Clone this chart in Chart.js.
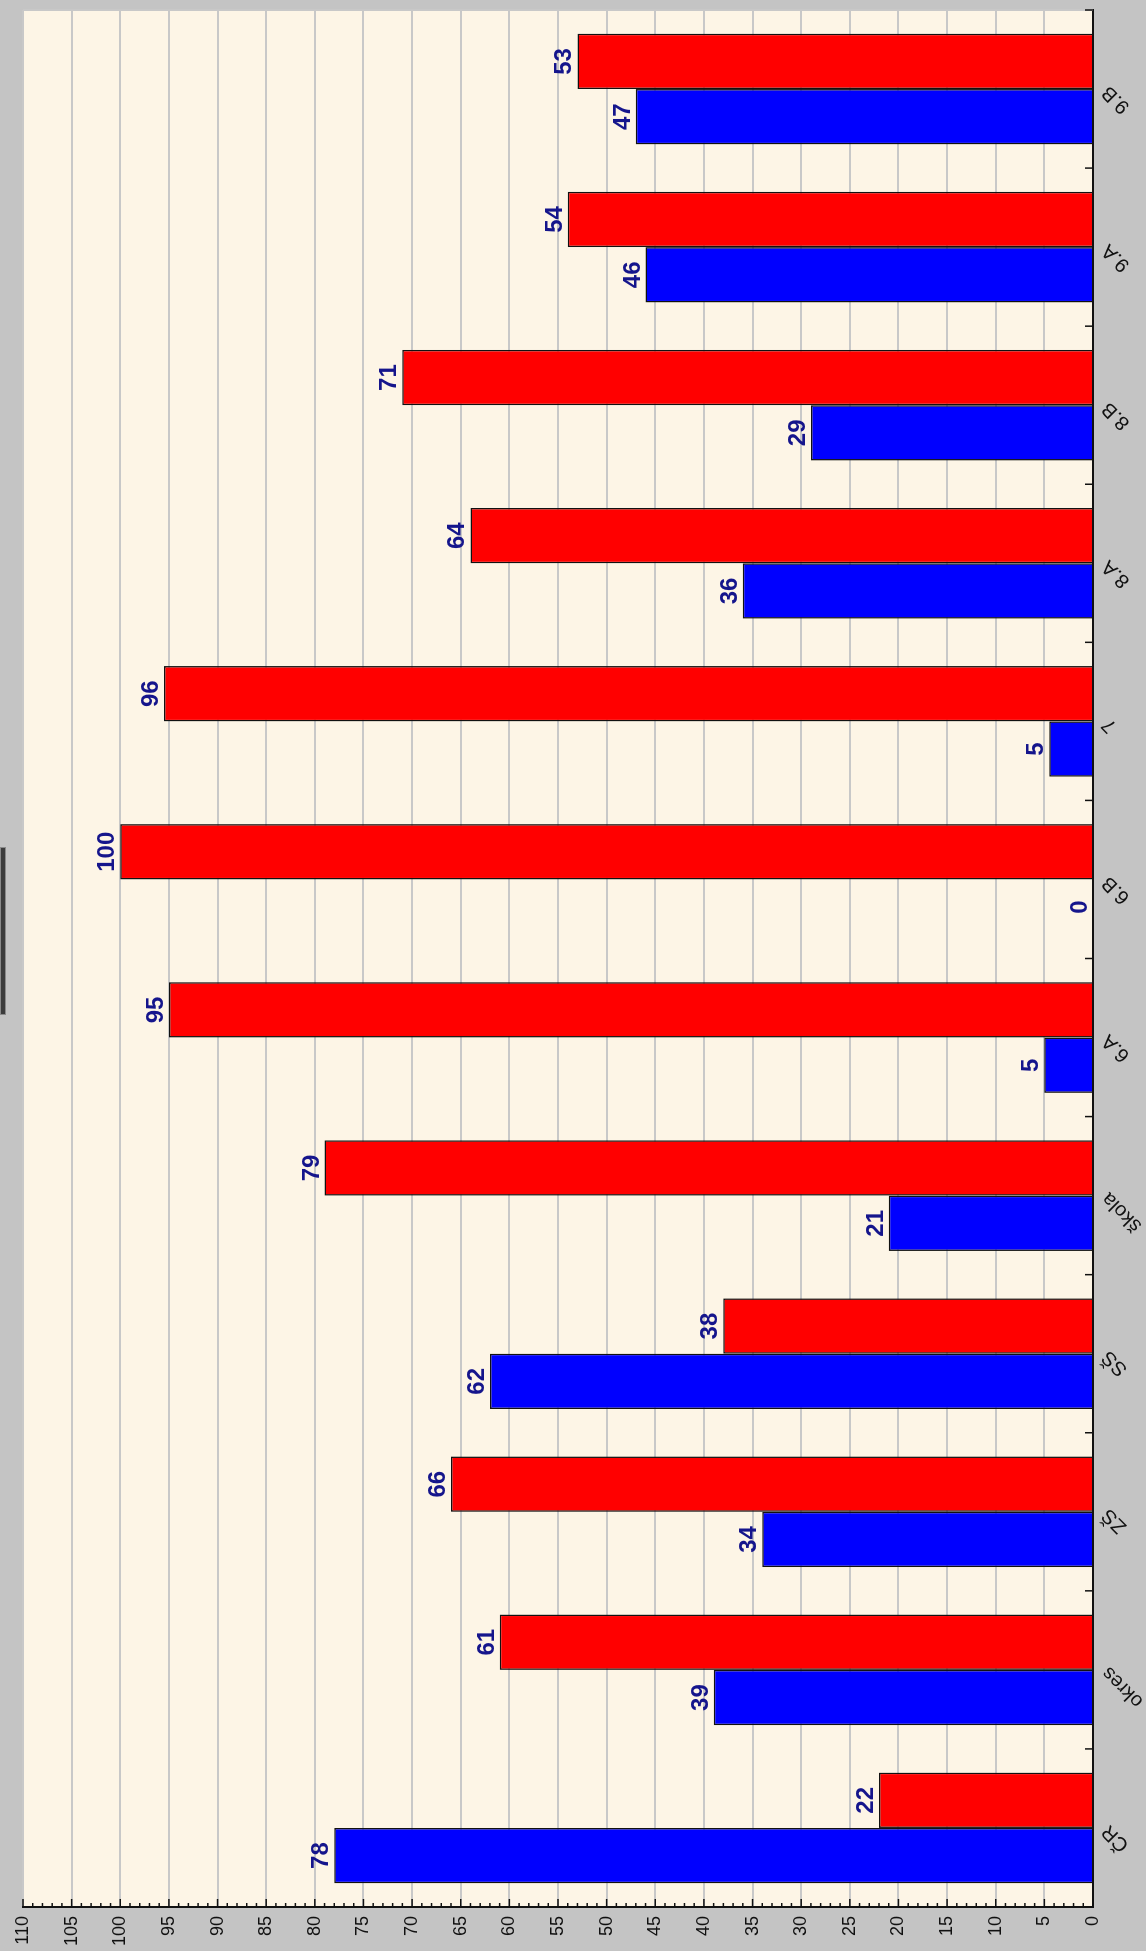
<!DOCTYPE html>
<html>
<head>
<meta charset="utf-8">
<script src="https://cdn.jsdelivr.net/npm/chart.js@4/dist/chart.umd.min.js"></script>
<style>
  html, body { margin: 0; padding: 0; background: #c4c4c4; overflow: hidden; }
  body { width: 1146px; height: 1951px; position: relative; }
  #rot { position: absolute; left: 0; top: 0; width: 1951px; height: 1146px;
         transform-origin: 0 0; transform: translate(0px, 1951px) rotate(-90deg); }
  #mark { position: absolute; left: 0; top: 847px; width: 4px; height: 166px;
          background: #3c3c3c; border: 1px solid #8a8a8a; z-index: 5; }
</style>
</head>
<body>
<div id="rot"><canvas id="c" width="1951" height="1146" style="width:1951px;height:1146px"></canvas></div>
<div id="mark"></div>
<script>
// ---- data ----
const categories = ['ČR', 'okres', 'ZŠ', 'SŠ', 'škola', '6.A', '6.B', '7', '8.A', '8.B', '9.A', '9.B'];
const blueValues = [78, 39, 34, 62, 21, 5, 0, 4.5, 36, 29, 46, 47];
const redValues  = [22, 61, 66, 38, 79, 95, 100, 95.5, 64, 71, 54, 53];
const valueMin = 0;
const valueMax = 110;
const valueStep = 5;
const minorStep = 1;

const FONT = '"Liberation Sans", Arial, sans-serif';

const decorPlugin = {
  id: 'decor',
  beforeDraw(chart) {
    const ctx = chart.ctx, a = chart.chartArea;
    ctx.save();
    ctx.fillStyle = '#c4c4c4';
    ctx.fillRect(0, 0, chart.width, chart.height);
    ctx.fillStyle = '#fdf5e6';
    ctx.fillRect(a.left, a.top, a.right - a.left, a.bottom - a.top);
    ctx.restore();
  },
  beforeDatasetsDraw(chart) {
    const ctx = chart.ctx, a = chart.chartArea;
    ctx.save();
    ctx.strokeStyle = '#c8c8c8';
    ctx.lineWidth = 2;
    ctx.beginPath();
    ctx.moveTo(a.right, a.top);
    ctx.lineTo(a.right, a.bottom);
    ctx.stroke();
    ctx.restore();
  },
  afterDatasetsDraw(chart) {
    const ctx = chart.ctx, a = chart.chartArea;
    const y = chart.scales.y, x = chart.scales.x;
    ctx.save();
    // value axis ticks (inside plot)
    ctx.strokeStyle = '#111';
    ctx.lineWidth = 1.5;
    for (let v = valueMin; v <= valueMax; v += minorStep) {
      const py = y.getPixelForValue(v);
      const len = (v % valueStep === 0) ? 8 : 4;
      ctx.beginPath();
      ctx.moveTo(a.left, py);
      ctx.lineTo(a.left + len, py);
      ctx.stroke();
    }
    // category boundary ticks (inside plot)
    const n = categories.length;
    const step = x.getPixelForValue(1) - x.getPixelForValue(0);
    for (let i = 0; i <= n; i++) {
      const px = (i < n) ? x.getPixelForValue(i) - step / 2 : x.getPixelForValue(n - 1) + step / 2;
      ctx.beginPath();
      ctx.moveTo(px, a.bottom);
      ctx.lineTo(px, a.bottom - 8);
      ctx.stroke();
    }
    // data labels
    ctx.fillStyle = '#15158c';
    ctx.font = 'bold 24px ' + FONT;
    ctx.textAlign = 'center';
    ctx.textBaseline = 'alphabetic';
    chart.data.datasets.forEach((ds, di) => {
      const meta = chart.getDatasetMeta(di);
      meta.data.forEach((el, i) => {
        ctx.fillText(String(Math.round(ds.data[i])), el.x, el.y - 6);
      });
    });
    ctx.restore();
  }
};

new Chart(document.getElementById('c'), {
  type: 'bar',
  data: {
    labels: categories,
    datasets: [
      { data: blueValues, backgroundColor: '#0000ff', borderColor: '#111', borderWidth: 1.5 },
      { data: redValues, backgroundColor: '#ff0000', borderColor: '#111', borderWidth: 1.5 }
    ]
  },
  options: {
    responsive: false,
    animation: false,
    devicePixelRatio: 1,
    layout: { padding: { top: 23, right: 10, left: 0, bottom: 0 } },
    plugins: { legend: { display: false }, tooltip: { enabled: false }, title: { display: false } },
    datasets: { bar: { categoryPercentage: 0.7, barPercentage: 1.0 } },
    scales: {
      x: {
        offset: true,
        grid: { display: false, drawTicks: false },
        border: { display: true, color: '#111', width: 2 },
        ticks: { minRotation: 45, maxRotation: 45, padding: 4, color: '#111',
                 font: { family: FONT, size: 20 } },
        afterFit(s) { s.height = 53; }
      },
      y: {
        min: valueMin, max: valueMax,
        grid: { color: '#c8c8c8', lineWidth: 2, drawTicks: false },
        border: { display: true, color: '#111', width: 2 },
        ticks: { stepSize: valueStep, padding: 9, color: '#111',
                 font: { family: FONT, size: 18 } },
        afterFit(s) { s.width = 44; }
      }
    }
  },
  plugins: [decorPlugin]
});
</script>
</body>
</html>
